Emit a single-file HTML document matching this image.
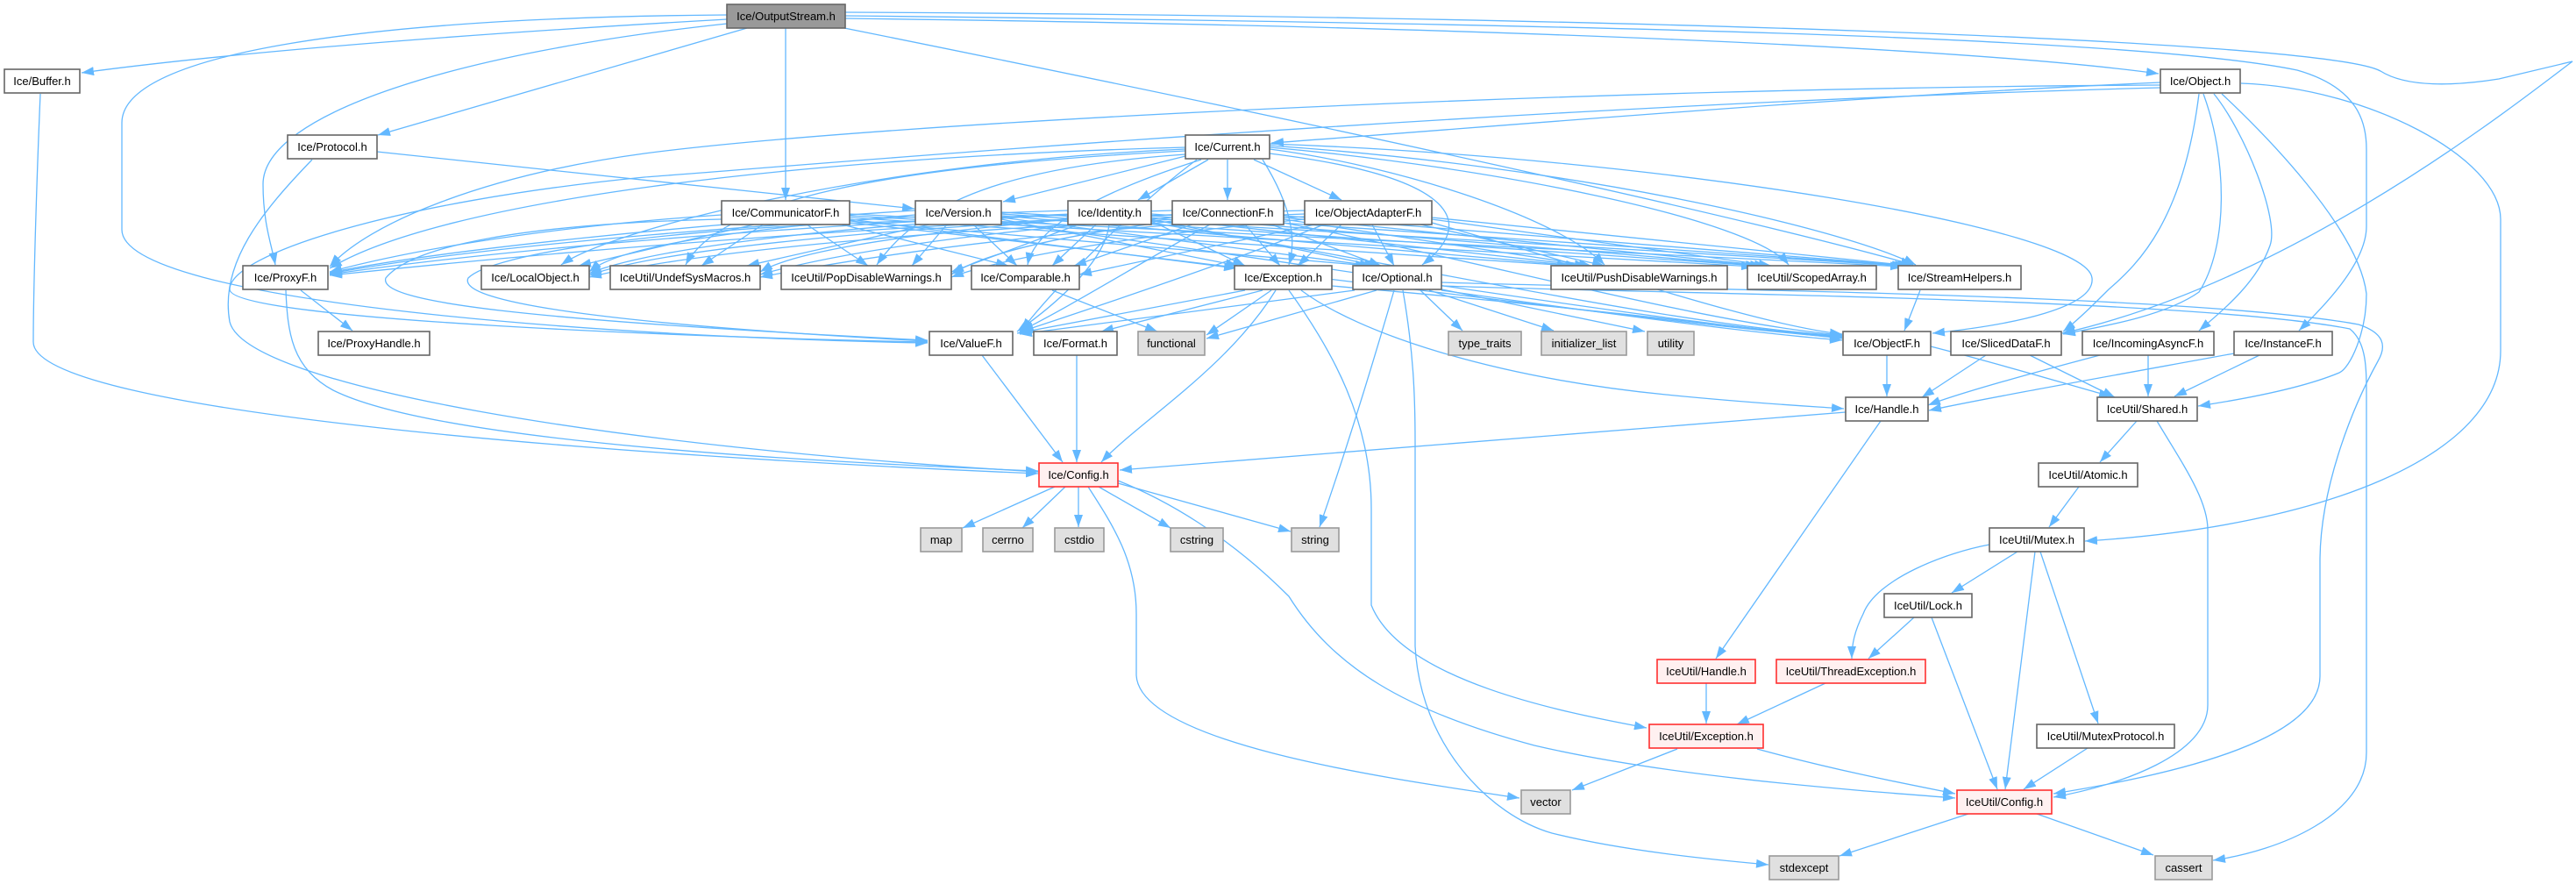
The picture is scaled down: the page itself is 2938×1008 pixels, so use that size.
<!DOCTYPE html>
<html><head><meta charset="utf-8"><title>Ice/OutputStream.h include graph</title>
<style>
html,body{margin:0;padding:0;background:#fff;}
svg{display:block;}
.e{fill:none;stroke:#63b8ff;stroke-width:1.3;marker-end:url(#a);}
.n{fill:#fff;stroke:#666;stroke-width:1.6;}
.g{fill:#e0e0e0;stroke:#999;stroke-width:1.6;}
.r{fill:#fff0f0;stroke:#ff3030;stroke-width:1.6;}
.root{fill:#999;stroke:#666;stroke-width:1.6;}
text{font-family:"Liberation Sans",Arial,sans-serif;font-size:13px;fill:#000;text-anchor:middle;}
</style></head>
<body>
<svg width="2938" height="1008" viewBox="0 0 2938 1008" xmlns="http://www.w3.org/2000/svg">
<defs>
<marker id="a" viewBox="0 0 14 10" markerWidth="14" markerHeight="10" refX="14" refY="5" orient="auto" markerUnits="userSpaceOnUse"><path d="M0,0L14,5L0,10z" fill="#63b8ff"/></marker>
</defs>
<g>
<path class="e" d="M829,22 C600,35 300,55 93,83"/>
<path class="e" d="M829,17 C420,20 139,60 139,140 L139,262 C139,345 700,385 1058,391"/>
<path class="e" d="M829,27 C520,60 300,130 300,210 C300,255 310,280 314,302"/>
<path class="e" d="M852,32 L431,154"/>
<path class="e" d="M896,32 L896,228"/>
<path class="e" d="M963,32 C1500,140 2000,250 2182,302"/>
<path class="e" d="M964,21 C1700,30 2250,55 2462,84"/>
<path class="e" d="M964,14 C1800,18 2650,45 2715,81 C2745,100 2800,98 2850,90 L2934,70 C2880,110 2620,320 2352,380"/>
<path class="e" d="M964,18 C1900,28 2450,45 2620,80 C2690,100 2699,140 2699,170 L2699,258 C2699,300 2650,350 2622,377"/>
<path class="e" d="M46,107 C42,200 38,330 38,390 C38,470 700,520 1184,540"/>
<path class="e" d="M430,173 L1043,238"/>
<path class="e" d="M356,182 C300,240 250,300 262,367 C280,440 700,510 1184,538"/>
<path class="e" d="M343,331 L402,377"/>
<path class="e" d="M326,331 C328,380 333,420 380,445 C480,495 800,522 1184,537"/>
<path class="e" d="M2464,94 C2100,110 1700,145 1450,163"/>
<path class="e" d="M2464,97 C1800,100 1000,140 735,175 C550,200 420,255 376,304"/>
<path class="e" d="M2464,100 C1700,120 900,190 735,202 C450,230 262,290 262,330 C262,365 800,385 1058,390"/>
<path class="e" d="M2508,107 C2490,250 2440,300 2405,330 C2390,345 2370,365 2353,378"/>
<path class="e" d="M2513,107 C2540,180 2542,280 2508,333 C2470,360 2400,372 2353,381"/>
<path class="e" d="M2525,107 C2560,150 2600,250 2589,280 C2575,320 2540,350 2508,377"/>
<path class="e" d="M2534,107 C2580,150 2690,260 2699,335 C2699,380 2680,420 2668,425 C2620,445 2540,458 2507,463"/>
<path class="e" d="M2556,95 C2700,100 2852,180 2852,250 L2852,400 C2852,520 2650,600 2378,617"/>

<path class="e" d="M1360,176 L1144,230"/>
<path class="e" d="M1378,182 L1298,228"/>
<path class="e" d="M1400,182 L1400,228"/>
<path class="e" d="M1430,182 L1530,228"/>
<path class="e" d="M1352,168 C900,180 500,230 376,306"/>
<path class="e" d="M1352,170 C1000,185 700,260 640,302"/>
<path class="e" d="M1352,172 C1000,190 820,230 782,302"/>
<path class="e" d="M1352,176 C1150,190 1050,230 1000,302"/>
<path class="e" d="M1370,182 C1250,220 1180,260 1172,302"/>
<path class="e" d="M1440,182 C1470,230 1480,270 1470,302"/>
<path class="e" d="M1448,175 C1650,200 1690,250 1622,302"/>
<path class="e" d="M1448,170 C1600,190 1780,250 1830,302"/>
<path class="e" d="M1448,168 C1700,190 2000,250 2040,302"/>
<path class="e" d="M1448,166 C1800,190 2100,260 2185,302"/>
<path class="e" d="M1365,182 C1300,230 1200,330 1165,377"/>
<path class="e" d="M1448,164 C1900,180 2380,260 2386,317 C2390,350 2300,370 2204,380"/>

<path class="e" d="M823,245 C600,260 450,290 376,310"/>
<path class="e" d="M860,256 L660,303"/>
<path class="e" d="M870,256 L800,303"/>
<path class="e" d="M920,256 L990,303"/>
<path class="e" d="M960,256 L1150,303"/>
<path class="e" d="M969,250 L1410,306"/>
<path class="e" d="M969,252 L1560,303"/>
<path class="e" d="M969,248 L1790,303"/>
<path class="e" d="M969,246 L2000,304"/>
<path class="e" d="M969,244 L2170,304"/>
<path class="e" d="M823,250 C600,255 470,280 440,317 C430,345 600,365 1058,388"/>
<path class="e" d="M969,254 C1400,300 1900,370 2101,385"/>

<path class="e" d="M1044,240 C800,255 500,285 376,311"/>
<path class="e" d="M1044,245 C800,265 700,285 672,310"/>
<path class="e" d="M1060,256 L852,303"/>
<path class="e" d="M1080,256 L1040,303"/>
<path class="e" d="M1110,256 L1160,303"/>
<path class="e" d="M1142,250 L1412,303"/>
<path class="e" d="M1142,248 L1565,303"/>
<path class="e" d="M1142,246 L1800,303"/>
<path class="e" d="M1142,244 L2005,303"/>
<path class="e" d="M1142,242 L2172,303"/>
<path class="e" d="M1044,252 C750,260 560,290 534,317 C520,345 700,370 1058,389"/>
<path class="e" d="M1142,254 C1500,300 1900,370 2101,384"/>

<path class="e" d="M1218,240 C900,250 550,280 376,312"/>
<path class="e" d="M1218,245 C900,260 720,290 672,312"/>
<path class="e" d="M1218,250 C1000,270 900,290 867,310"/>
<path class="e" d="M1230,256 L1085,310"/>
<path class="e" d="M1250,256 L1200,303"/>
<path class="e" d="M1313,252 L1420,303"/>
<path class="e" d="M1313,250 L1570,303"/>
<path class="e" d="M1313,248 L1810,303"/>
<path class="e" d="M1313,246 L2010,303"/>
<path class="e" d="M1313,244 L2175,303"/>
<path class="e" d="M1265,256 C1260,300 1200,350 1160,378"/>
<path class="e" d="M1313,254 C1600,300 1900,370 2101,383"/>

<path class="e" d="M1337,240 C1000,250 600,280 376,313"/>
<path class="e" d="M1337,245 C1000,260 750,285 672,314"/>
<path class="e" d="M1337,248 C1100,265 950,290 867,313"/>
<path class="e" d="M1337,252 C1200,270 1120,290 1085,313"/>
<path class="e" d="M1360,256 L1225,303"/>
<path class="e" d="M1420,256 L1460,303"/>
<path class="e" d="M1450,256 L1575,303"/>
<path class="e" d="M1464,250 L1815,303"/>
<path class="e" d="M1464,248 L2015,303"/>
<path class="e" d="M1464,246 L2178,303"/>
<path class="e" d="M1380,256 C1300,300 1220,350 1163,378"/>
<path class="e" d="M1464,254 C1700,300 1950,370 2101,382"/>

<path class="e" d="M1488,240 C1100,250 700,280 376,314"/>
<path class="e" d="M1488,244 C1100,258 800,285 672,316"/>
<path class="e" d="M1488,247 C1200,262 1000,290 867,316"/>
<path class="e" d="M1488,250 C1300,268 1150,292 1085,316"/>
<path class="e" d="M1500,256 L1231,313"/>
<path class="e" d="M1530,256 L1480,303"/>
<path class="e" d="M1565,256 L1590,303"/>
<path class="e" d="M1620,256 L1830,303"/>
<path class="e" d="M1633,250 L2020,303"/>
<path class="e" d="M1633,248 L2180,303"/>
<path class="e" d="M1510,256 C1400,300 1250,350 1165,378"/>
<path class="e" d="M1633,254 C1800,300 2000,370 2101,381"/>

<path class="e" d="M1420,331 L1160,380"/>
<path class="e" d="M1440,331 L1256,378"/>
<path class="e" d="M1450,331 L1376,382"/>
<path class="e" d="M1455,331 C1400,420 1300,480 1256,527"/>
<path class="e" d="M1470,331 C1520,400 1564,480 1564,580 L1564,690 C1600,780 1800,815 1878,830"/>
<path class="e" d="M1484,331 C1550,380 1700,430 1900,450 C2000,460 2060,463 2103,466"/>
<path class="e" d="M1519,326 C1800,350 2000,375 2101,386"/>
<path class="e" d="M1644,322 C1900,330 2500,335 2690,370 C2720,380 2722,395 2712,412 C2680,470 2646,560 2646,640 L2646,771 C2646,840 2500,880 2342,905"/>
<path class="e" d="M1644,326 C1900,335 2500,340 2680,375 C2699,390 2699,420 2699,450 L2699,858 C2699,930 2600,970 2524,981"/>
<path class="e" d="M1590,331 C1570,400 1540,500 1505,601"/>
<path class="e" d="M1600,331 C1612,400 1614,450 1614,504 L1614,737 C1620,850 1700,930 1770,950 C1850,970 1950,980 2017,986"/>
<path class="e" d="M1620,331 L1668,377"/>
<path class="e" d="M1630,331 L1772,377"/>
<path class="e" d="M1640,329 L1876,378"/>
<path class="e" d="M1570,331 L1376,386"/>
<path class="e" d="M1545,331 L1163,381"/>
<path class="e" d="M1644,331 C1850,360 2000,380 2101,388"/>
<path class="e" d="M1200,331 L1320,378"/>
<path class="e" d="M1120,405 L1212,527"/>
<path class="e" d="M1228,405 L1228,527"/>
<path class="e" d="M2105,470 L1277,536"/>
<path class="e" d="M2145,480 L1957,751"/>
<path class="e" d="M2190,331 L2172,377"/>
<path class="e" d="M2152,405 L2152,452"/>
<path class="e" d="M2202,395 C2300,420 2380,445 2408,452"/>
<path class="e" d="M2265,405 L2192,453"/>
<path class="e" d="M2315,405 L2412,453"/>
<path class="e" d="M2395,405 C2300,430 2230,450 2199,462"/>
<path class="e" d="M2450,405 L2450,452"/>
<path class="e" d="M2548,403 C2400,430 2260,455 2200,468"/>
<path class="e" d="M2577,405 L2480,452"/>
<path class="e" d="M2437,480 L2395,527"/>
<path class="e" d="M2460,480 C2490,530 2518,570 2518,604 L2518,804 C2518,860 2420,895 2342,909"/>
<path class="e" d="M2371,555 L2337,601"/>
<path class="e" d="M2301,629 L2226,676"/>
<path class="e" d="M2321,629 L2287,900"/>
<path class="e" d="M2327,629 L2393,825"/>
<path class="e" d="M2269,621 C2220,630 2140,660 2125,700 C2115,720 2112,735 2112,751"/>
<path class="e" d="M2183,704 L2131,751"/>
<path class="e" d="M2203,704 L2278,900"/>
<path class="e" d="M2381,853 L2308,900"/>
<path class="e" d="M2323,928 L2456,975"/>
<path class="e" d="M2245,928 L2098,976"/>
<path class="e" d="M2082,779 L1981,826"/>
<path class="e" d="M1946,779 L1946,825"/>
<path class="e" d="M1913,854 L1793,901"/>
<path class="e" d="M2004,854 C2100,880 2180,895 2230,905"/>
<path class="e" d="M1203,555 L1098,602"/>
<path class="e" d="M1215,555 L1166,602"/>
<path class="e" d="M1230,555 L1230,601"/>
<path class="e" d="M1253,555 L1335,602"/>
<path class="e" d="M1275,551 L1472,606"/>
<path class="e" d="M1241,555 C1270,600 1296,640 1296,700 L1296,770 C1300,850 1600,890 1733,910"/>
<path class="e" d="M1275,548 C1330,570 1400,610 1470,680 C1520,760 1600,810 1750,850 C1900,885 2100,900 2230,910"/>
</g>

<g>
<rect class="root" x="829" y="5" width="135" height="27"/><text x="896.5" y="23">Ice/OutputStream.h</text>
<rect class="n" x="5" y="79" width="86" height="27"/><text x="48" y="97">Ice/Buffer.h</text>
<rect class="n" x="2464" y="79" width="91" height="27"/><text x="2509.5" y="97">Ice/Object.h</text>
<rect class="n" x="328" y="154" width="102" height="27"/><text x="379" y="172">Ice/Protocol.h</text>
<rect class="n" x="1352" y="154" width="96" height="27"/><text x="1400" y="172">Ice/Current.h</text>
<rect class="n" x="823" y="229" width="146" height="27"/><text x="896" y="247">Ice/CommunicatorF.h</text>
<rect class="n" x="1044" y="229" width="98" height="27"/><text x="1093" y="247">Ice/Version.h</text>
<rect class="n" x="1218" y="229" width="95" height="27"/><text x="1265.5" y="247">Ice/Identity.h</text>
<rect class="n" x="1337" y="229" width="127" height="27"/><text x="1400.5" y="247">Ice/ConnectionF.h</text>
<rect class="n" x="1488" y="229" width="145" height="27"/><text x="1560.5" y="247">Ice/ObjectAdapterF.h</text>

<rect class="n" x="277" y="303" width="97" height="27"/><text x="325.5" y="321">Ice/ProxyF.h</text>
<rect class="n" x="549" y="303" width="123" height="27"/><text x="610.5" y="321">Ice/LocalObject.h</text>
<rect class="n" x="696" y="303" width="171" height="27"/><text x="781.5" y="321">IceUtil/UndefSysMacros.h</text>
<rect class="n" x="891" y="303" width="194" height="27"/><text x="988" y="321">IceUtil/PopDisableWarnings.h</text>
<rect class="n" x="1108" y="303" width="123" height="27"/><text x="1169.5" y="321">Ice/Comparable.h</text>
<rect class="n" x="1408" y="303" width="111" height="27"/><text x="1463.5" y="321">Ice/Exception.h</text>
<rect class="n" x="1543" y="303" width="101" height="27"/><text x="1593.5" y="321">Ice/Optional.h</text>
<rect class="n" x="1769" y="303" width="201" height="27"/><text x="1869.5" y="321">IceUtil/PushDisableWarnings.h</text>
<rect class="n" x="1993" y="303" width="147" height="27"/><text x="2066.5" y="321">IceUtil/ScopedArray.h</text>
<rect class="n" x="2165" y="303" width="140" height="27"/><text x="2235" y="321">Ice/StreamHelpers.h</text>

<rect class="n" x="363" y="378" width="127" height="27"/><text x="426.5" y="396">Ice/ProxyHandle.h</text>
<rect class="n" x="1060" y="378" width="95" height="27"/><text x="1107.5" y="396">Ice/ValueF.h</text>
<rect class="n" x="1179" y="378" width="95" height="27"/><text x="1226.5" y="396">Ice/Format.h</text>
<rect class="g" x="1298" y="378" width="76" height="27"/><text x="1336" y="396">functional</text>
<rect class="g" x="1652" y="378" width="83" height="27"/><text x="1693.5" y="396">type_traits</text>
<rect class="g" x="1758" y="378" width="97" height="27"/><text x="1806.5" y="396">initializer_list</text>
<rect class="g" x="1879" y="378" width="53" height="27"/><text x="1905.5" y="396">utility</text>
<rect class="n" x="2102" y="378" width="100" height="27"/><text x="2152" y="396">Ice/ObjectF.h</text>
<rect class="n" x="2225" y="378" width="126" height="27"/><text x="2288" y="396">Ice/SlicedDataF.h</text>
<rect class="n" x="2375" y="378" width="150" height="27"/><text x="2450" y="396">Ice/IncomingAsyncF.h</text>
<rect class="n" x="2548" y="378" width="112" height="27"/><text x="2604" y="396">Ice/InstanceF.h</text>

<rect class="n" x="2105" y="453" width="94" height="27"/><text x="2152" y="471">Ice/Handle.h</text>
<rect class="n" x="2392" y="453" width="114" height="27"/><text x="2449" y="471">IceUtil/Shared.h</text>

<rect class="r" x="1185" y="528" width="90" height="27"/><text x="1230" y="546">Ice/Config.h</text>
<rect class="n" x="2325" y="528" width="113" height="27"/><text x="2381.5" y="546">IceUtil/Atomic.h</text>

<rect class="g" x="1050" y="602" width="47" height="27"/><text x="1073.5" y="620">map</text>
<rect class="g" x="1121" y="602" width="57" height="27"/><text x="1149.5" y="620">cerrno</text>
<rect class="g" x="1203" y="602" width="56" height="27"/><text x="1231" y="620">cstdio</text>
<rect class="g" x="1335" y="602" width="60" height="27"/><text x="1365" y="620">cstring</text>
<rect class="g" x="1473" y="602" width="54" height="27"/><text x="1500" y="620">string</text>
<rect class="n" x="2269" y="602" width="108" height="27"/><text x="2323" y="620">IceUtil/Mutex.h</text>

<rect class="n" x="2149" y="677" width="100" height="27"/><text x="2199" y="695">IceUtil/Lock.h</text>

<rect class="r" x="1890" y="752" width="112" height="27"/><text x="1946" y="770">IceUtil/Handle.h</text>
<rect class="r" x="2026" y="752" width="170" height="27"/><text x="2111" y="770">IceUtil/ThreadException.h</text>

<rect class="r" x="1881" y="826" width="130" height="27"/><text x="1946" y="844">IceUtil/Exception.h</text>
<rect class="n" x="2323" y="826" width="157" height="27"/><text x="2401.5" y="844">IceUtil/MutexProtocol.h</text>

<rect class="g" x="1735" y="901" width="56" height="27"/><text x="1763" y="919">vector</text>
<rect class="r" x="2232" y="901" width="108" height="27"/><text x="2286" y="919">IceUtil/Config.h</text>

<rect class="g" x="2018" y="976" width="79" height="27"/><text x="2057.5" y="994">stdexcept</text>
<rect class="g" x="2458" y="976" width="65" height="27"/><text x="2490.5" y="994">cassert</text>
</g>
</svg>
</body></html>
